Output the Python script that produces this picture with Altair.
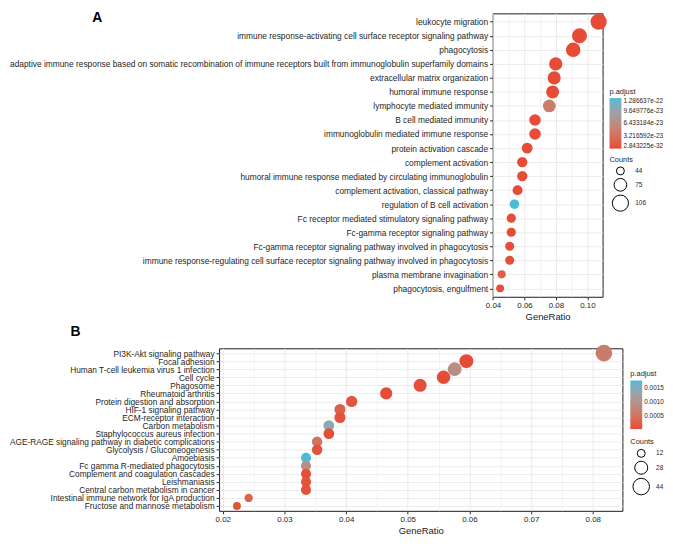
import altair as alt
import pandas as pd

# ---------------- data ----------------
termsA = [
    "leukocyte migration",
    "immune response-activating cell surface receptor signaling pathway",
    "phagocytosis",
    "adaptive immune response based on somatic recombination of immune receptors built from immunoglobulin superfamily domains",
    "extracellular matrix organization",
    "humoral immune response",
    "lymphocyte mediated immunity",
    "B cell mediated immunity",
    "immunoglobulin mediated immune response",
    "protein activation cascade",
    "complement activation",
    "humoral immune response mediated by circulating immunoglobulin",
    "complement activation, classical pathway",
    "regulation of B cell activation",
    "Fc receptor mediated stimulatory signaling pathway",
    "Fc-gamma receptor signaling pathway",
    "Fc-gamma receptor signaling pathway involved in phagocytosis",
    "immune response-regulating cell surface receptor signaling pathway involved in phagocytosis",
    "plasma membrane invagination",
    "phagocytosis, engulfment",
]
ratioA = [0.1072, 0.0950, 0.0910, 0.0799, 0.0789, 0.0779, 0.0758, 0.0667, 0.0667, 0.0617,
          0.0586, 0.0586, 0.0556, 0.0536, 0.0516, 0.0516, 0.0506, 0.0506, 0.0455, 0.0445]
countA = [106, 94, 90, 79, 78, 77, 75, 66, 66, 61, 58, 58, 55, 53, 51, 51, 50, 50, 45, 44]
padjA = [2.843225e-32, 4.1e-31, 1.2e-30, 3.6e-28, 5.2e-28, 2.3e-27, 4.6e-23, 6.9e-25, 6.9e-25, 3.3e-26,
         8.1e-26, 1.4e-24, 2.2e-25, 1.286637e-22, 5.7e-25, 9.8e-25, 1.9e-24, 1.9e-24, 1.6e-23, 3.4e-24]
legend_padjA = [2.843225e-32, 3.216592e-23, 6.433184e-23, 9.649776e-23, 1.286637e-22]
legend_countA = [44, 75, 106]
gridA = [0.04, 0.05, 0.06, 0.07, 0.08, 0.09, 0.10]

termsB = [
    "PI3K-Akt signaling pathway",
    "Focal adhesion",
    "Human T-cell leukemia virus 1 infection",
    "Cell cycle",
    "Phagosome",
    "Rheumatoid arthritis",
    "Protein digestion and absorption",
    "HIF-1 signaling pathway",
    "ECM-receptor interaction",
    "Carbon metabolism",
    "Staphylococcus aureus infection",
    "AGE-RAGE signaling pathway in diabetic complications",
    "Glycolysis / Gluconeogenesis",
    "Amoebiasis",
    "Fc gamma R-mediated phagocytosis",
    "Complement and coagulation cascades",
    "Leishmaniasis",
    "Central carbon metabolism in cancer",
    "Intestinal immune network for IgA production",
    "Fructose and mannose metabolism",
]
ratioB = [0.0818, 0.0595, 0.0576, 0.0558, 0.0520, 0.0465, 0.0409, 0.0390, 0.0390, 0.0372,
          0.0372, 0.0353, 0.0353, 0.0335, 0.0335, 0.0335, 0.0335, 0.0335, 0.0242, 0.0223]
countB = [44, 32, 31, 30, 28, 25, 22, 21, 21, 20, 20, 19, 19, 18, 18, 18, 18, 18, 13, 12]
padjB = [0.00062, 0.000012, 0.00092, 0.000035, 0.000041, 0.000018, 0.00011, 0.00024, 0.000076, 0.00138,
         0.000052, 0.00050, 0.000089, 0.00176, 0.00093, 0.000064, 0.000097, 0.000071, 0.00027, 0.000083]
legend_padjB = [0.0005, 0.0010, 0.0015]
legend_countB = [12, 28, 44]
gridB = [0.020, 0.025, 0.030, 0.035, 0.040, 0.045, 0.050, 0.055, 0.060, 0.065, 0.070, 0.075, 0.080]

panel_tags = ["A", "B"]

# ---------------- styling ----------------
FONT = "Liberation Sans"
RED, BLUE = "#E64B35", "#4DBBD5"
TXT = "#262626"
GRID = "#EBEBEB"
SHIFT_A = 276  # horizontal offset of panel A's plot relative to panel B's plot

dfA = pd.DataFrame({"Description": termsA, "GeneRatio": ratioA, "Counts": countA, "padj": padjA})
dfB = pd.DataFrame({"Description": termsB, "GeneRatio": ratioB, "Counts": countB, "padj": padjB})


def make_panel(df, terms, xdom, xvals, major_test, lab_size, cvals, cfmt, svals, srange,
               width, height, leg, tag, tag_xy):
    is_major = {"condition": {"test": major_test, "value": 1}, "value": 0}
    points = alt.Chart(df).mark_circle(opacity=1).encode(
        x=alt.X("GeneRatio:Q",
                scale=alt.Scale(domain=xdom, nice=False, zero=False),
                axis=alt.Axis(values=xvals,
                              labelExpr=f"({major_test}) ? format(datum.value, '.2f') : ''",
                              tickOpacity=is_major,
                              gridWidth={"condition": {"test": major_test, "value": 1}, "value": 0.6},
                              grid=True, gridColor=GRID, domain=False,
                              tickSize=3, tickColor=TXT, labelColor=TXT, labelFontSize=8,
                              labelPadding=2, labelFlush=False, labelOverlap=False,
                              title="GeneRatio", titleFontSize=9.5, titleFontWeight="normal",
                              titleColor="#1a1a1a", titlePadding=2)),
        y=alt.Y("Description:N", sort=terms,
                scale=alt.Scale(padding=0.6),
                axis=alt.Axis(title=None, labelLimit=1000, labelFontSize=lab_size, labelColor=TXT,
                              tickSize=3, tickColor=TXT, labelPadding=2, grid=True,
                              gridColor=GRID, domain=False)),
        color=alt.Color("padj:Q",
                        scale=alt.Scale(domain=[min(df["padj"]), max(df["padj"])],
                                        range=[RED, BLUE], interpolate="lab"),
                        legend=alt.Legend(title="p.adjust", orient="none", direction="vertical",
                                          legendX=leg[0], legendY=leg[1], values=cvals, format=cfmt,
                                          gradientLength=leg[4], gradientThickness=12,
                                          gradientStrokeWidth=0, labelOffset=2)),
        size=alt.Size("Counts:Q",
                      scale=alt.Scale(domain=[min(df["Counts"]), max(df["Counts"])], range=srange),
                      legend=alt.Legend(title="Counts", orient="none", direction="vertical",
                                        legendX=leg[2], legendY=leg[3], values=svals,
                                        symbolType="circle", symbolFillColor="white",
                                        symbolStrokeColor="black", symbolStrokeWidth=1,
                                        rowPadding=-1.5, labelOffset=6, symbolOffset=2)),
        order=alt.Order("GeneRatio:Q", sort="ascending"),
    )
    tag_chart = alt.Chart(pd.DataFrame({"tag": [tag]})).mark_text(
        font=FONT, fontSize=14, fontWeight="bold", color="black", align="left", baseline="top"
    ).encode(text="tag:N", x=alt.value(tag_xy[0]), y=alt.value(tag_xy[1]))
    return alt.layer(points, tag_chart).properties(width=width, height=height)


# panel A's legends live in the row group whose origin is panel B's plot origin
chartA = make_panel(dfA, termsA, [0.0397, 0.1097], gridA, "round(datum.value*100) % 2 == 0", 8.45,
                    legend_padjA, ".6e", legend_countA, [64, 266], 111, 286,
                    (SHIFT_A + 118, 75, SHIFT_A + 118, 144, 51), panel_tags[0], (-404, -2))
chartB = make_panel(dfB, termsB, [0.0194, 0.0848], gridB, "round(datum.value*1000) % 10 == 0", 8.4,
                    legend_padjB, ".4f", legend_countB, [64, 279], 407, 164,
                    (415, 22, 415, 91, 49), panel_tags[1], (-150, -23))

spacer = alt.Chart(pd.DataFrame({"v": [0]})).mark_point(opacity=0, size=1).encode(
    x=alt.value(0), y=alt.value(0)
).properties(width=SHIFT_A, height=10, view=alt.ViewBackground(stroke="transparent"))

rowA = alt.hconcat(spacer, chartA, spacing=0, bounds="flush")

chart = alt.vconcat(rowA, chartB, spacing=3).resolve_scale(
    color="independent", size="independent"
).resolve_legend(color="independent", size="independent").properties(
    padding={"left": 0, "top": 0, "right": 0, "bottom": 0}
).configure_view(
    stroke="#1a1a1a", strokeWidth=1
).configure_axis(
    labelFont=FONT, titleFont=FONT
).configure_legend(
    titleFont=FONT, labelFont=FONT, titleFontSize=7.5, labelFontSize=6.5, titleColor=TXT,
    labelColor=TXT, titleFontWeight="normal", titlePadding=3
)

chart.save("out.html", embed_options={"renderer": "svg", "actions": False})
